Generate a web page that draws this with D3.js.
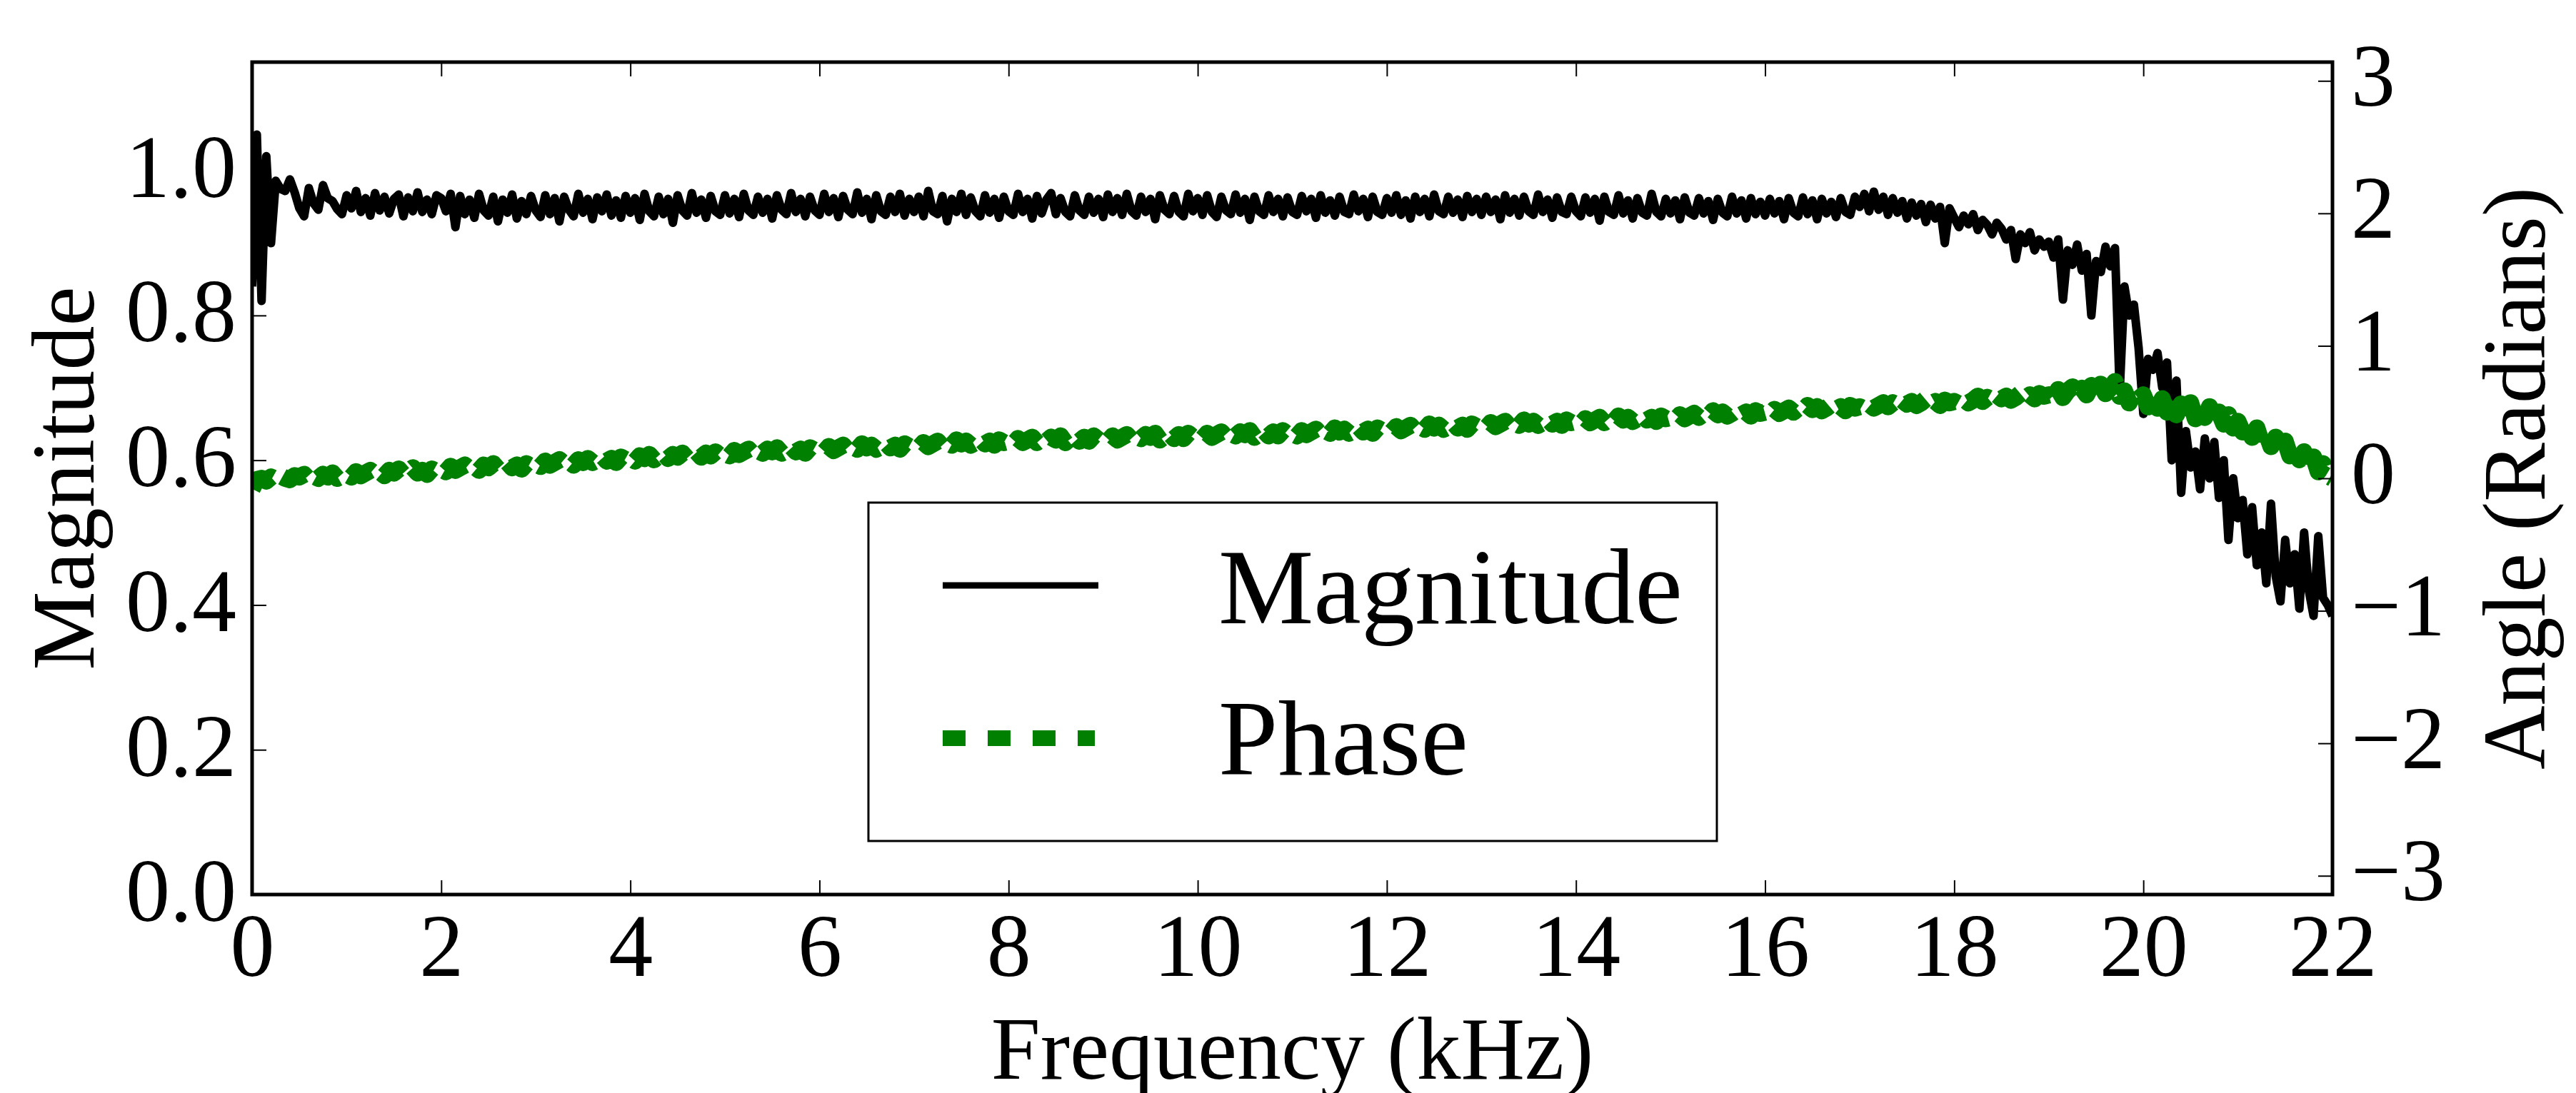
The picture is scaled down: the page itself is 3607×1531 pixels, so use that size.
<!DOCTYPE html>
<html>
<head>
<meta charset="utf-8">
<script src="https://cdn.jsdelivr.net/npm/d3@7"></script>
<style>
  body { margin: 0; background: #fff; }
  text { font-family: "Liberation Serif", "DejaVu Serif", serif; fill: #000; }
</style>
</head>
<body>
<div id="chart-area"></div>
<script>
// samples every 0.05 kHz
const FREQ_STEP = 0.05

const magnitude = [
  0.84, 1.05, 0.82, 1.02, 0.90, 0.986, 0.975, 0.972, 0.988, 0.970, 0.948, 0.937, 0.976, 0.955, 0.946, 0.980, 0.962, 0.958, 0.947, 0.940,
  0.966, 0.948, 0.972, 0.943, 0.962, 0.938, 0.969, 0.945, 0.964, 0.941, 0.961, 0.967, 0.937, 0.963, 0.944, 0.970, 0.943, 0.960, 0.940, 0.966,
  0.962, 0.944, 0.968, 0.922, 0.965, 0.940, 0.960, 0.935, 0.968, 0.945, 0.938, 0.964, 0.930, 0.960, 0.942, 0.967, 0.934, 0.958, 0.940, 0.965,
  0.945, 0.936, 0.966, 0.940, 0.962, 0.930, 0.964, 0.946, 0.937, 0.968, 0.942, 0.961, 0.933, 0.963, 0.944, 0.967, 0.938, 0.959, 0.935, 0.965,
  0.942, 0.962, 0.932, 0.968, 0.944, 0.937, 0.964, 0.940, 0.961, 0.928, 0.966, 0.945, 0.938, 0.969, 0.942, 0.960, 0.935, 0.965, 0.944, 0.939,
  0.966, 0.941, 0.961, 0.936, 0.968, 0.945, 0.939, 0.964, 0.942, 0.961, 0.934, 0.966, 0.946, 0.940, 0.969, 0.943, 0.961, 0.937, 0.964, 0.945,
  0.939, 0.968, 0.943, 0.962, 0.936, 0.965, 0.946, 0.940, 0.970, 0.942, 0.961, 0.933, 0.966, 0.944, 0.939, 0.964, 0.943, 0.968, 0.938, 0.961,
  0.943, 0.964, 0.937, 0.972, 0.944, 0.940, 0.965, 0.930, 0.961, 0.943, 0.968, 0.939, 0.963, 0.944, 0.937, 0.966, 0.942, 0.961, 0.935, 0.964,
  0.944, 0.939, 0.968, 0.943, 0.961, 0.934, 0.965, 0.941, 0.960, 0.969, 0.940, 0.962, 0.943, 0.937, 0.966, 0.945, 0.939, 0.964, 0.942, 0.961,
  0.936, 0.967, 0.943, 0.962, 0.939, 0.968, 0.944, 0.938, 0.964, 0.943, 0.961, 0.933, 0.966, 0.946, 0.940, 0.965, 0.943, 0.937, 0.968, 0.944,
  0.962, 0.939, 0.966, 0.943, 0.936, 0.964, 0.945, 0.940, 0.967, 0.942, 0.961, 0.932, 0.964, 0.944, 0.939, 0.966, 0.943, 0.961, 0.937, 0.963,
  0.943, 0.939, 0.965, 0.944, 0.961, 0.935, 0.966, 0.942, 0.959, 0.938, 0.964, 0.943, 0.940, 0.967, 0.944, 0.961, 0.936, 0.964, 0.943, 0.939,
  0.962, 0.942, 0.966, 0.939, 0.959, 0.934, 0.964, 0.943, 0.961, 0.937, 0.967, 0.944, 0.940, 0.964, 0.942, 0.960, 0.936, 0.965, 0.943, 0.961,
  0.939, 0.964, 0.943, 0.960, 0.933, 0.966, 0.942, 0.961, 0.938, 0.964, 0.944, 0.939, 0.967, 0.943, 0.960, 0.935, 0.963, 0.943, 0.940, 0.964,
  0.944, 0.937, 0.963, 0.942, 0.961, 0.931, 0.964, 0.943, 0.939, 0.966, 0.941, 0.959, 0.934, 0.962, 0.942, 0.938, 0.968, 0.943, 0.937, 0.961,
  0.941, 0.959, 0.933, 0.963, 0.942, 0.938, 0.962, 0.941, 0.958, 0.932, 0.961, 0.942, 0.937, 0.964, 0.941, 0.959, 0.934, 0.962, 0.940, 0.957,
  0.938, 0.961, 0.941, 0.958, 0.933, 0.962, 0.942, 0.937, 0.963, 0.940, 0.959, 0.933, 0.961, 0.941, 0.957, 0.936, 0.962, 0.943, 0.939, 0.964,
  0.950, 0.968, 0.944, 0.971, 0.946, 0.964, 0.939, 0.962, 0.942, 0.958, 0.934, 0.956, 0.938, 0.954, 0.929, 0.953, 0.934, 0.950, 0.900, 0.948,
  0.935, 0.922, 0.938, 0.926, 0.940, 0.918, 0.932, 0.925, 0.912, 0.928, 0.920, 0.905, 0.918, 0.878, 0.912, 0.900, 0.915, 0.890, 0.905, 0.895,
  0.902, 0.880, 0.905, 0.822, 0.890, 0.870, 0.898, 0.862, 0.885, 0.800, 0.875, 0.860, 0.895, 0.868, 0.893, 0.695, 0.840, 0.800, 0.815, 0.755,
  0.664, 0.740, 0.725, 0.748, 0.700, 0.735, 0.600, 0.710, 0.555, 0.640, 0.590, 0.612, 0.560, 0.630, 0.575, 0.625, 0.548, 0.600, 0.490, 0.575,
  0.520, 0.545, 0.470, 0.535, 0.455, 0.500, 0.430, 0.540, 0.440, 0.405, 0.490, 0.430, 0.470, 0.395, 0.500, 0.420, 0.385, 0.495, 0.410, 0.400, 0.385
]

const phase = [
  -0.08, -0.01, 0.00, -0.02, 0.01, -0.01, 0.02, 0.00, -0.01, 0.02, 0.01, 0.03, -0.01, 0.02, 0.00, 0.03, 0.01, 0.04, 0.00, 0.02,
  0.03, 0.01, 0.05, 0.02, 0.04, 0.06, 0.03, 0.05, 0.02, 0.06, 0.04, 0.07, 0.03, 0.05, 0.08, 0.04, 0.06, 0.03, 0.07, 0.05,
  0.07, 0.05, 0.09, 0.06, 0.08, 0.10, 0.07, 0.09, 0.06, 0.10, 0.08, 0.11, 0.07, 0.09, 0.12, 0.08, 0.10, 0.07, 0.11, 0.09,
  0.11, 0.09, 0.13, 0.10, 0.12, 0.14, 0.11, 0.13, 0.10, 0.14, 0.12, 0.15, 0.12, 0.14, 0.17, 0.13, 0.15, 0.12, 0.16, 0.14,
  0.16, 0.13, 0.17, 0.15, 0.18, 0.14, 0.17, 0.19, 0.15, 0.18, 0.16, 0.19, 0.15, 0.18, 0.20, 0.16, 0.19, 0.17, 0.20, 0.17,
  0.19, 0.17, 0.21, 0.18, 0.20, 0.22, 0.18, 0.21, 0.19, 0.22, 0.20, 0.23, 0.19, 0.21, 0.24, 0.20, 0.22, 0.19, 0.23, 0.21,
  0.22, 0.20, 0.24, 0.21, 0.23, 0.25, 0.21, 0.24, 0.22, 0.26, 0.23, 0.25, 0.22, 0.24, 0.27, 0.23, 0.25, 0.22, 0.26, 0.24,
  0.25, 0.23, 0.27, 0.24, 0.26, 0.28, 0.24, 0.27, 0.25, 0.29, 0.26, 0.28, 0.25, 0.27, 0.30, 0.26, 0.28, 0.25, 0.29, 0.27,
  0.28, 0.26, 0.30, 0.27, 0.29, 0.31, 0.27, 0.30, 0.28, 0.31, 0.29, 0.32, 0.27, 0.30, 0.32, 0.28, 0.31, 0.28, 0.32, 0.29,
  0.30, 0.28, 0.32, 0.29, 0.31, 0.33, 0.29, 0.32, 0.30, 0.33, 0.31, 0.34, 0.29, 0.32, 0.34, 0.30, 0.33, 0.30, 0.34, 0.31,
  0.32, 0.30, 0.34, 0.31, 0.33, 0.35, 0.31, 0.34, 0.32, 0.35, 0.33, 0.36, 0.31, 0.34, 0.36, 0.32, 0.35, 0.32, 0.36, 0.33,
  0.34, 0.32, 0.36, 0.33, 0.35, 0.37, 0.33, 0.36, 0.34, 0.38, 0.35, 0.37, 0.34, 0.36, 0.39, 0.35, 0.37, 0.34, 0.38, 0.36,
  0.37, 0.35, 0.39, 0.36, 0.38, 0.40, 0.36, 0.39, 0.37, 0.41, 0.38, 0.40, 0.37, 0.39, 0.42, 0.38, 0.40, 0.37, 0.41, 0.39,
  0.40, 0.38, 0.42, 0.39, 0.41, 0.43, 0.39, 0.42, 0.40, 0.44, 0.41, 0.43, 0.40, 0.42, 0.45, 0.41, 0.43, 0.40, 0.44, 0.42,
  0.43, 0.41, 0.45, 0.42, 0.44, 0.46, 0.42, 0.45, 0.43, 0.47, 0.44, 0.46, 0.43, 0.45, 0.48, 0.44, 0.46, 0.43, 0.47, 0.45,
  0.46, 0.44, 0.48, 0.45, 0.47, 0.49, 0.46, 0.49, 0.47, 0.51, 0.48, 0.50, 0.47, 0.49, 0.52, 0.48, 0.50, 0.47, 0.51, 0.49,
  0.50, 0.48, 0.52, 0.49, 0.51, 0.53, 0.50, 0.53, 0.51, 0.55, 0.52, 0.54, 0.51, 0.53, 0.56, 0.52, 0.54, 0.51, 0.55, 0.53,
  0.54, 0.52, 0.56, 0.53, 0.55, 0.57, 0.54, 0.57, 0.55, 0.59, 0.56, 0.58, 0.55, 0.57, 0.60, 0.56, 0.58, 0.55, 0.59, 0.57,
  0.58, 0.56, 0.60, 0.57, 0.59, 0.62, 0.58, 0.61, 0.59, 0.63, 0.60, 0.62, 0.59, 0.61, 0.64, 0.60, 0.63, 0.60, 0.64, 0.62,
  0.63, 0.59, 0.67, 0.61, 0.66, 0.69, 0.62, 0.68, 0.63, 0.70, 0.65, 0.71, 0.64, 0.68, 0.73, 0.62, 0.66, 0.57, 0.65, 0.60,
  0.63, 0.54, 0.62, 0.53, 0.60, 0.50, 0.59, 0.48, 0.56, 0.49, 0.57, 0.45, 0.53, 0.46, 0.54, 0.42, 0.50, 0.41, 0.48, 0.38,
  0.43, 0.35, 0.41, 0.31, 0.38, 0.27, 0.34, 0.24, 0.31, 0.21, 0.28, 0.17, 0.24, 0.14, 0.20, 0.09, 0.16, 0.05, 0.11, 0.02, 0.00
]

const xTicks = [0, 2, 4, 6, 8, 10, 12, 14, 16, 18, 20, 22]
const magTicks = [0.0, 0.2, 0.4, 0.6, 0.8, 1.0]
const phaseTicks = [-3, -2, -1, 0, 1, 2, 3]
const legendNames = ["Magnitude", "Phase"]

const MARGIN = { LEFT: 353, RIGHT: 341, TOP: 87, BOTTOM: 278 }
const W = 3607, H = 1531
const WIDTH = W - MARGIN.LEFT - MARGIN.RIGHT
const HEIGHT = H - MARGIN.TOP - MARGIN.BOTTOM
const TICK_FONT = 124
const GREEN = "#008000"

const svg = d3.select("#chart-area").append("svg")
  .attr("width", W)
  .attr("height", H)
  .style("display", "block")
svg.append("rect").attr("width", W).attr("height", H).attr("fill", "#fff")

const g = svg.append("g")
  .attr("transform", `translate(${MARGIN.LEFT}, ${MARGIN.TOP})`)

// Scales
const x = d3.scaleLinear().domain([0, 22]).range([0, WIDTH])
const yMag = d3.scaleLinear().domain([0, 1.15]).range([HEIGHT, 0])
const yPhase = d3.scaleLinear().domain([-Math.PI, Math.PI]).range([HEIGHT, 0])

g.append("clipPath").attr("id", "plot-clip")
  .append("rect").attr("width", WIDTH).attr("height", HEIGHT)

// Lines
const magLine = d3.line()
  .x((d, i) => x(i * FREQ_STEP))
  .y(d => yMag(d))
const phaseLine = d3.line()
  .x((d, i) => x(i * FREQ_STEP))
  .y(d => yPhase(d))

g.append("path")
  .datum(magnitude)
  .attr("clip-path", "url(#plot-clip)")
  .attr("fill", "none")
  .attr("stroke", "#000")
  .attr("stroke-width", 12)
  .attr("stroke-linejoin", "round")
  .attr("d", magLine)

// the noisy trace makes the dashes bunch into blobs
g.append("path")
  .datum(phase)
  .attr("clip-path", "url(#plot-clip)")
  .attr("fill", "none")
  .attr("stroke", GREEN)
  .attr("stroke-width", 24)
  .attr("stroke-linejoin", "round")
  .attr("stroke-dasharray", "40 17")
  .attr("d", phaseLine)

// Axes (ticks point inward)
function styleAxis(sel) {
  sel.select(".domain").remove()
  sel.attr("font-family", null).attr("font-size", TICK_FONT)
  sel.selectAll(".tick line").attr("stroke", "#000").attr("stroke-width", 2)
  sel.selectAll(".tick text").attr("fill", "#000")
}

g.append("g")
  .attr("transform", `translate(0, ${HEIGHT})`)
  .call(d3.axisBottom(x).tickValues(xTicks).tickFormat(d3.format("d"))
    .tickSizeInner(-20).tickSizeOuter(0))
  .call(styleAxis)
  .call(a => a.selectAll(".tick text").attr("y", 114).attr("dy", 0))

g.append("g")
  .call(d3.axisTop(x).tickValues(xTicks).tickFormat("")
    .tickSizeInner(-20).tickSizeOuter(0))
  .call(styleAxis)

g.append("g")
  .call(d3.axisLeft(yMag).tickValues(magTicks).tickFormat(d3.format(".1f"))
    .tickSizeInner(-20).tickSizeOuter(0))
  .call(styleAxis)
  .call(a => a.selectAll(".tick text").attr("x", -22).attr("dy", 36))

g.append("g")
  .attr("transform", `translate(${WIDTH}, 0)`)
  .call(d3.axisRight(yPhase).tickValues(phaseTicks).tickFormat(d3.format("d"))
    .tickSizeInner(-20).tickSizeOuter(0))
  .call(styleAxis)
  .call(a => a.selectAll(".tick text").attr("x", 26).attr("dy", 34))

// Frame
g.append("rect")
  .attr("width", WIDTH)
  .attr("height", HEIGHT)
  .attr("fill", "none")
  .attr("stroke", "#000")
  .attr("stroke-width", 5)

// Labels
svg.append("text")
  .attr("x", MARGIN.LEFT + WIDTH / 2)
  .attr("y", 1511)
  .attr("font-size", TICK_FONT)
  .attr("text-anchor", "middle")
  .text("Frequency (kHz)")
svg.append("text")
  .attr("transform", `translate(131, ${MARGIN.TOP + HEIGHT / 2}) rotate(-90)`)
  .attr("font-size", TICK_FONT)
  .attr("text-anchor", "middle")
  .text("Magnitude")
svg.append("text")
  .attr("transform", `translate(3563, ${MARGIN.TOP + HEIGHT / 2}) rotate(-90)`)
  .attr("font-size", TICK_FONT)
  .attr("text-anchor", "middle")
  .text("Angle (Radians)")

// Legend
const legend = svg.append("g")
legend.append("rect")
  .attr("x", 1216).attr("y", 704)
  .attr("width", 1188).attr("height", 474)
  .attr("fill", "#fff")
  .attr("stroke", "#000")
  .attr("stroke-width", 3)

legendNames.forEach((name, i) => {
  const row = legend.append("g")
    .attr("transform", `translate(0, ${i * 212})`)
  const isPhase = name === "Phase"
  row.append("line")
    .attr("x1", 1320).attr("x2", isPhase ? 1533 : 1538)
    .attr("y1", isPhase ? 822 : 820).attr("y2", isPhase ? 822 : 820)
    .attr("stroke", isPhase ? GREEN : "#000")
    .attr("stroke-width", isPhase ? 22 : 9)
    .attr("stroke-dasharray", isPhase ? "32 31" : null)
  row.append("text")
    .attr("x", 1706)
    .attr("y", 873)
    .attr("font-size", 150)
    .text(name)
})
</script>
</body>
</html>
